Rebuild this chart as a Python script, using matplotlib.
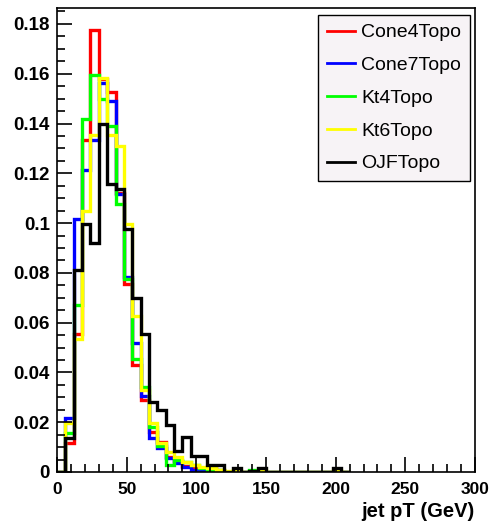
import numpy as np
import matplotlib.pyplot as plt

# bin contents, 6 GeV bins starting at 0 (up to 210 GeV)
bin_width = 6.0
cone4 = [0.0, 0.0116, 0.0555, 0.1335, 0.1775, 0.158, 0.1528, 0.112, 0.0755, 0.043,
         0.029, 0.016, 0.0121, 0.006, 0.0045, 0.0025, 0.002, 0.0015, 0.002, 0.0008,
         0.0, 0.0, 0.0, 0.0, 0.0, 0.0, 0.0, 0.0, 0.0, 0.0, 0.0, 0.0, 0.0, 0.0, 0.0]
cone7 = [0.0, 0.0216, 0.1015, 0.1215, 0.1335, 0.1564, 0.149, 0.1115, 0.0785, 0.052,
         0.0305, 0.0135, 0.0096, 0.0055, 0.0035, 0.002, 0.001, 0.001, 0.0005, 0.0,
         0.0, 0.0, 0.0, 0.0, 0.0, 0.0, 0.0, 0.0, 0.0, 0.0, 0.0, 0.0, 0.0, 0.0, 0.0]
kt4 = [0.0, 0.0156, 0.067, 0.142, 0.1595, 0.150, 0.139, 0.1075, 0.0775, 0.0455,
       0.034, 0.018, 0.0104, 0.0028, 0.005, 0.004, 0.003, 0.0015, 0.001, 0.001,
       0.0, 0.0, 0.0, 0.001, 0.0, 0.0, 0.0, 0.0, 0.0, 0.0, 0.0, 0.0, 0.0, 0.0, 0.0]
kt6 = [0.0, 0.0196, 0.0535, 0.105, 0.1355, 0.1584, 0.1355, 0.131, 0.0995, 0.0628,
       0.033, 0.0195, 0.0116, 0.008, 0.006, 0.004, 0.003, 0.002, 0.0015, 0.001,
       0.0005, 0.0008, 0.0, 0.0, 0.001, 0.0, 0.0, 0.0, 0.0, 0.0, 0.0, 0.0, 0.0, 0.001, 0.0]
ojf = [0.0, 0.0138, 0.081, 0.0996, 0.092, 0.140, 0.1155, 0.1135, 0.0975, 0.070,
       0.0555, 0.028, 0.0248, 0.019, 0.0085, 0.014, 0.0065, 0.0065, 0.0028, 0.0028,
       0.0, 0.0015, 0.0, 0.0005, 0.0015, 0.0, 0.0, 0.0, 0.0, 0.0, 0.0, 0.0, 0.0, 0.0015, 0.0]

labels = ['Cone4Topo', 'Cone7Topo', 'Kt4Topo', 'Kt6Topo', 'OJFTopo']
colors = ['#ff0000', '#0000ff', '#00ff00', '#ffff00', '#000000']
series = [cone4, cone7, kt4, kt6, ojf]

plt.rcParams['font.family'] = ['Liberation Sans', 'DejaVu Sans']

fig = plt.figure(figsize=(4.91, 5.22), dpi=100)
ax = fig.add_axes([57/491, 50/522, 418/491, 464/522])

edges = np.arange(len(cone4) + 1) * bin_width
for vals, col, lab in zip(series, colors, labels):
    ax.stairs(vals, edges, color=col, linewidth=2.4, label=lab, baseline=None)

ax.set_xlim(0, 300)
ax.set_ylim(0, 0.1864)
ax.set_xticks(np.arange(0, 301, 50))
ax.set_xticks(np.arange(0, 301, 10), minor=True)
ax.set_yticks(np.arange(0, 0.181, 0.02))
ax.set_yticks(np.arange(0, 0.186, 0.005), minor=True)
ax.yaxis.set_major_formatter(plt.FuncFormatter(lambda v, p: '%g' % round(v, 3)))

ax.tick_params(which='both', direction='in', top=False, right=False, width=1.2)
ax.tick_params(which='major', length=11)
ax.tick_params(which='minor', length=5.5)
ax.tick_params(axis='x', pad=7)
ax.tick_params(axis='y', pad=5)
for lbl in ax.get_xticklabels():
    lbl.set_fontweight('bold')
    lbl.set_fontsize(12.5)
for lbl in ax.get_yticklabels():
    lbl.set_fontweight('bold')
    lbl.set_fontsize(13.5)
for sp in ax.spines.values():
    sp.set_linewidth(1.2)

ax.set_xlabel('jet pT (GeV)', fontsize=14.5, fontweight='bold', loc='right', labelpad=4)

leg = ax.legend(loc='upper right', bbox_to_anchor=(470/491, 1 - 15/522),
                bbox_transform=fig.transFigure, fontsize=14, frameon=True,
                fancybox=False, edgecolor='black', facecolor='#f7f3f6', framealpha=1,
                handlelength=1.45, handletextpad=0.3, labelspacing=0.78,
                borderpad=0.45, borderaxespad=0)
leg.get_frame().set_linewidth(1.0)
for h in leg.get_lines():
    h.set_linewidth(2.0)

fig.savefig('out.png', dpi=100)
